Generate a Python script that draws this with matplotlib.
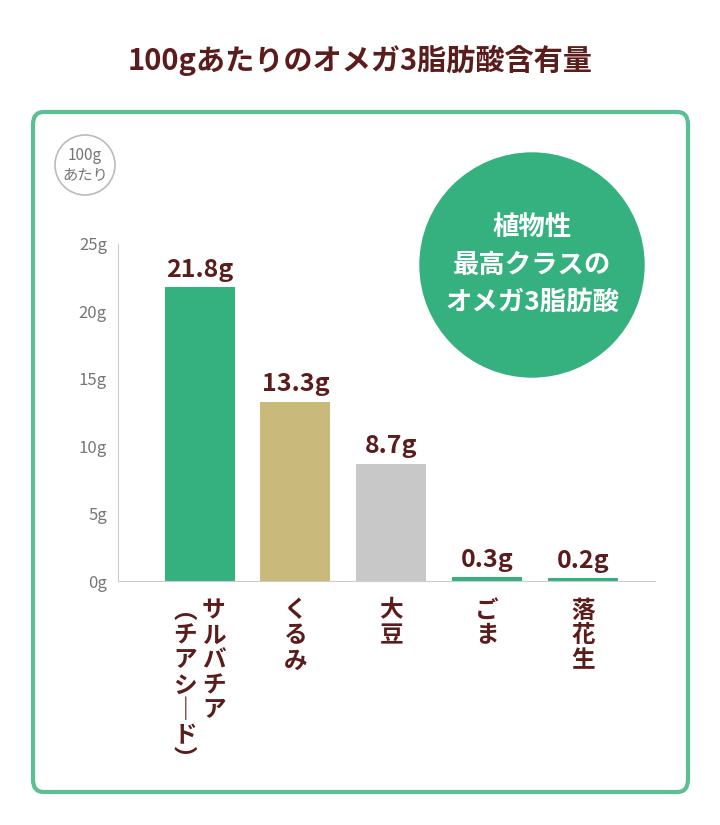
import matplotlib
matplotlib.use("Agg")
import matplotlib.pyplot as plt
from matplotlib.patches import FancyBboxPatch, Circle

plt.rcParams["font.family"] = "Noto Sans CJK JP"

TITLE = "100gあたりのオメガ3脂肪酸含有量"
names = [["サルバチア", "︵チアシ｜ド︶"], ["くるみ"], ["大豆"], ["ごま"], ["落花生"]]
values = [21.8, 13.3, 8.7, 0.3, 0.2]
colors = ["#35b07f", "#c9b97a", "#c8c8c8", "#35b07f", "#35b07f"]
yticks = [0, 5, 10, 15, 20, 25]

BROWN = "#5b1c1c"
GREEN = "#35b07f"

fig = plt.figure(figsize=(7.2, 8.25), dpi=100)
fig.text(0.5, 1 - 60 / 825, TITLE, ha="center", va="center", fontsize=21,
         fontweight="bold", color=BROWN)

box = FancyBboxPatch((33 / 720, 1 - 792 / 825), 655 / 720, 680 / 825,
                     boxstyle="round,pad=0,rounding_size=0.015",
                     transform=fig.transFigure, fill=False, ec="#5bbf94", lw=3)
fig.add_artist(box)

ax = fig.add_axes([118 / 720, 1 - 581 / 825, 537 / 720, 337 / 825])
x = list(range(len(values)))
ax.bar(x, values, width=0.73, color=colors)
ax.set_xlim(-0.85, 4.75)
ax.set_ylim(0, 25)
ax.set_yticks(yticks)
ax.set_yticklabels([f"{t}g" for t in yticks], fontsize=12, color="#777777")
ax.set_xticks([])
for s in ["top", "right"]:
    ax.spines[s].set_visible(False)
ax.spines["left"].set_color("#cccccc")
ax.spines["bottom"].set_color("#cccccc")
ax.tick_params(axis="y", length=0, pad=8)

for i, v in enumerate(values):
    ax.text(i, v + 0.4, f"{v}g", ha="center", va="bottom", fontsize=18,
            fontweight="bold", color=BROWN)
    cols = names[i]
    for j, col in enumerate(cols):
        off = 0.15 * (len(cols) - 1) - 0.3 * j
        ax.text(i + off, -1.3, "\n".join(col), ha="center", va="top",
                fontsize=17, fontweight="bold", color=BROWN, linespacing=1.05)

# badges, drawn in inches so they stay round
fig.add_artist(Circle((5.32, 8.25 - 2.65), 1.12, transform=fig.dpi_scale_trans,
                      color=GREEN))
fig.text(532 / 720, 1 - 265 / 825, "植物性\n最高クラスの\nオメガ3脂肪酸", ha="center",
         va="center", fontsize=19, fontweight="bold", color="white", linespacing=1.5)

fig.add_artist(Circle((0.85, 8.25 - 1.65), 0.30, transform=fig.dpi_scale_trans,
                      fill=False, ec="#bbbbbb", lw=1.2))
fig.text(85 / 720, 1 - 165 / 825, "100g\nあたり", ha="center", va="center",
         fontsize=11, color="#777777", linespacing=1.1)

fig.savefig("out.png", dpi=100)
